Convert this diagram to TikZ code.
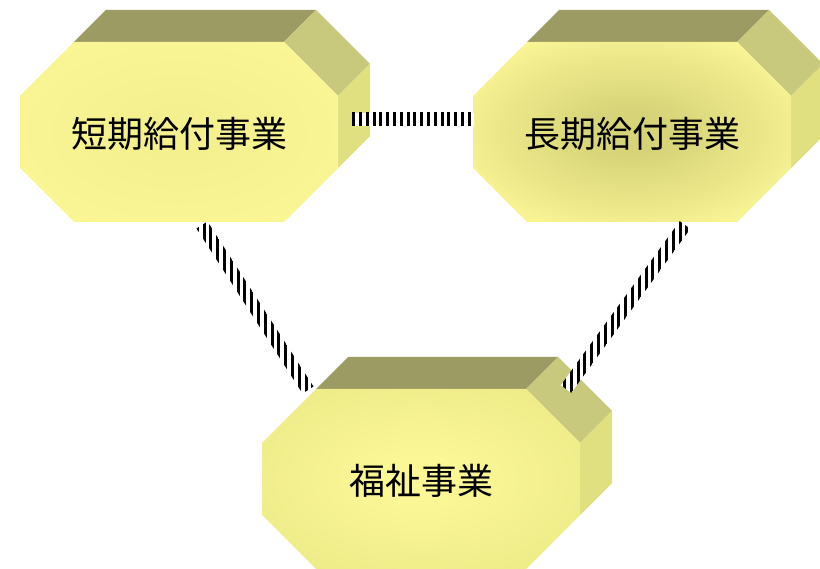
\documentclass[tikz,border=0pt]{standalone}
\usepackage{fontspec}
\newfontfamily\jp{Noto Sans CJK JP}
\usetikzlibrary{calc,patterns.meta}
\definecolor{topc}{HTML}{9B9B63}
\definecolor{slantc}{HTML}{C9C97E}
\definecolor{sidec}{HTML}{E0E080}
\definecolor{innc}{HTML}{FAF595}
\definecolor{outc}{HTML}{FAF595}
\pgfdeclareradialshading[innc,outc]{glow}{\pgfpoint{0bp}{0bp}}{color(0bp)=(innc); color(6bp)=(innc); color(30bp)=(outc); color(50bp)=(outc)}
\tikzset{
  lbl/.style={font=\jp\fontsize{36}{40}\selectfont, text=black, inner sep=0pt},
}
\newcommand\octbox[6]{% name, x, y, text, inner, outer
  \begin{scope}[shift={(#2,#3)}]
    \fill[topc] (54,0) -- (86,-32) -- (296,-32) -- (264,0) -- cycle;
    \fill[slantc] (264,0) -- (296,-32) -- (350,22) -- (318,54) -- cycle;
    \fill[sidec] (318,54) -- (350,22) -- (350,94) -- (318,126) -- cycle;
    \definecolor{innc}{HTML}{#5}\definecolor{outc}{HTML}{#6}
    \shade[shading=glow] (54,0) -- (264,0) -- (318,54) -- (318,126) -- (264,180) -- (54,180) -- (0,126) -- (0,54) -- cycle;
    \node[lbl] (#1) at (159,92) {#4};
  \end{scope}}
\newcommand\stripeconn[2]{%
  \path[fill=white, postaction={pattern={Lines[angle=90,distance=6.8pt,line width=3pt]}, pattern color=black}]
    ($(#1)!6.5pt!90:(#2)$) -- ($(#2)!6.5pt!-90:(#1)$) -- ($(#2)!6.5pt!90:(#1)$) -- ($(#1)!6.5pt!-90:(#2)$) -- cycle;}
\begin{document}
\begin{tikzpicture}[x=1pt,y=-1pt]
  \useasboundingbox (0,0) rectangle (820,569);
  \octbox{short}{20}{42}{短期給付事業}{F4F090}{FAF595}
  \octbox{long}{473}{42}{長期給付事業}{D6D378}{FAF595}
  \octbox{welfare}{262}{389}{福祉事業}{FBF797}{EEEB89}
  \coordinate (h1) at (352,119.5);
  \coordinate (h2) at (474,119.5);
  \coordinate (l1) at (202,225);
  \coordinate (l2) at (308,390);
  \coordinate (r1) at (685,225);
  \coordinate (r2) at (566,389);
  \stripeconn{h1}{h2}
  \stripeconn{l1}{l2}
  \stripeconn{r1}{r2}
\end{tikzpicture}
\end{document}
